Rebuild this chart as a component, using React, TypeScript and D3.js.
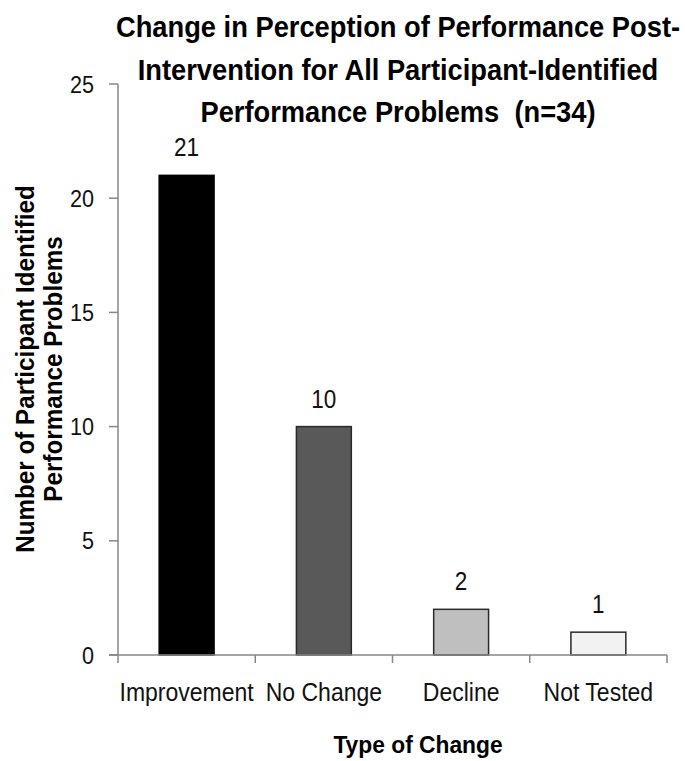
import React from "react";
import * as d3 from "d3";

const categories = ["Improvement", "No Change", "Decline", "Not Tested"];
const values = [21, 10, 2, 1];
const barColors = ["#000000", "#595959", "#bfbfbf", "#f2f2f2"];
const yTicks = [0, 5, 10, 15, 20, 25];
const titleLines = [
  "Change in Perception of Performance Post-",
  "Intervention for All Participant-Identified",
  "Performance Problems  (n=34)",
];
const yTitleLines = ["Number of Participant Identified", "Performance Problems"];
const xTitle = "Type of Change";

const W = 685;
const H = 761;
const left = 118;
const right = 667;
const top = 84;
const bottom = 655;
const FONT = "'Liberation Sans', Arial, sans-serif";

export default function App() {
  const x = d3.scaleBand<string>().domain(categories).range([left, right]).padding(0);
  const y = d3.scaleLinear().domain([0, 25]).range([bottom, top]);
  const bw = x.bandwidth() * 0.4;
  const axisColor = "#878787";
  return (
    <svg
      width={W}
      height={H}
      style={{ position: "absolute", left: 0, top: 0, background: "#fff" }}
      fontFamily={FONT}
    >
      <rect x={0} y={0} width={W} height={H} fill="#fff" />
      {/* title */}
      {titleLines.map((t, i) => (
        <text
          key={i}
          transform={`translate(398,${37 + i * 42.5}) scale(0.91,1)`}
          textAnchor="middle"
          fontWeight="bold"
          fontSize={30}
          fill="#000"
          style={{ whiteSpace: "pre" }}
        >
          {t}
        </text>
      ))}
      {/* bars */}
      {categories.map((c, i) => {
        const cx = (x(c) as number) + x.bandwidth() / 2;
        return (
          <g key={c}>
            <rect
              x={cx - bw / 2}
              y={y(values[i])}
              width={bw}
              height={bottom - y(values[i])}
              fill={barColors[i]}
              stroke={i === 0 ? "#000" : "#2a2a2a"}
              strokeWidth={1.5}
            />
            <text
              transform={`translate(${cx},${y(values[i]) - 19}) scale(0.9,1)`}
              textAnchor="middle"
              fontSize={25}
              fill="#111"
            >
              {values[i]}
            </text>
            <text
              transform={`translate(${cx},701) scale(0.92,1)`}
              textAnchor="middle"
              fontSize={25}
              fill="#111"
            >
              {c}
            </text>
          </g>
        );
      })}
      {/* y axis */}
      <line x1={left} x2={left} y1={top} y2={bottom} stroke={axisColor} strokeWidth={1.5} />
      {yTicks.map((t) => (
        <g key={t}>
          <line x1={left - 9} x2={left} y1={y(t)} y2={y(t)} stroke={axisColor} strokeWidth={1.5} />
          <text
            transform={`translate(94,${y(t) + 8.5}) scale(0.9,1)`}
            textAnchor="end"
            fontSize={24}
            fill="#111"
          >
            {t}
          </text>
        </g>
      ))}
      {/* x axis */}
      <line x1={left - 9} x2={right} y1={bottom} y2={bottom} stroke={axisColor} strokeWidth={1.5} />
      {[...categories.map((c) => x(c) as number), right].map((v, i) => (
        <line key={i} x1={v} x2={v} y1={bottom} y2={bottom + 8} stroke={axisColor} strokeWidth={1.5} />
      ))}
      {/* axis titles */}
      <text
        transform={`translate(418,753) scale(0.95,1)`}
        textAnchor="middle"
        fontWeight="bold"
        fontSize={24}
        fill="#000"
      >
        {xTitle}
      </text>
      {yTitleLines.map((t, i) => (
        <text
          key={i}
          transform={`translate(${34 + i * 28},369) rotate(-90) scale(0.97,1)`}
          textAnchor="middle"
          fontWeight="bold"
          fontSize={25}
          fill="#000"
        >
          {t}
        </text>
      ))}
    </svg>
  );
}
